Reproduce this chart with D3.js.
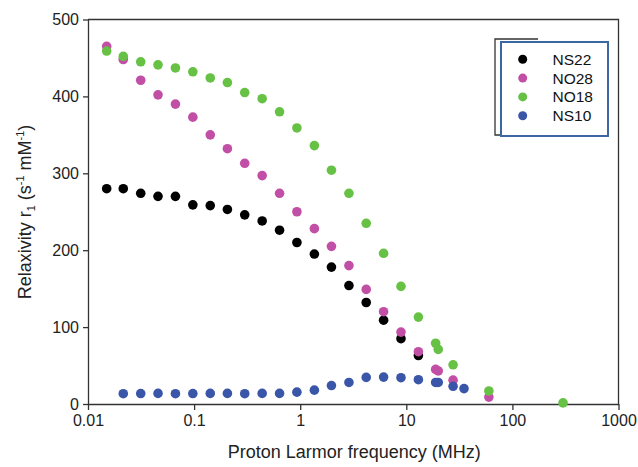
<!DOCTYPE html>
<html>
<head>
<meta charset="utf-8">
<script src="https://cdn.jsdelivr.net/npm/d3@7"></script>
<style>
  body { margin: 0; background: #fff; }
  svg { display: block; font-family: "Liberation Sans", Arial, sans-serif; }
</style>
</head>
<body>
<svg id="chart" width="638" height="467"></svg>
<script>
// frequencies in MHz (shared by all series)
var freqs = [0.015, 0.0215, 0.0314, 0.0457, 0.0667, 0.0973, 0.142, 0.206, 0.300, 0.438,
  0.639, 0.931, 1.36, 1.97, 2.88, 4.19, 6.11, 8.91, 13.0, 18.9,
  20, 27.6, 35, 60, 300];

var ns22 = [280, 280, 274, 270, 270, 259, 258, 253, 246, 238, 226, 210, 195, 178, 154, 132, 109, 85, 63,
  null, null, null, null, null, null];
var no28 = [465, 448, 421, 402, 390, 373, 350, 332, 313, 297, 274, 250, 228, 205, 180, 149, 120, 93.5, 68,
  45, 43, 31, null, 9, null];
var no18 = [459, 452, 445, 441, 437, 432, 424, 418, 405, 397, 380, 359, 336, 304, 274, 235, 196, 153, 113,
  79, 71, 51, null, 17, 1.5];
var ns10 = [null, 13.4, 13.6, 13.8, 13.4, 13.6, 13.8, 13.8, 13.4, 13.8, 13.8, 15.4, 18, 24, 28, 34.6, 35, 34.2, 31.6,
  28, 28, 23, 20, null, null];

var seriesNames = ['NS22', 'NO28', 'NO18', 'NS10'];
var seriesColors = ['#000000', '#c24fa6', '#66c144', '#3a56a8'];
var xTicks = [0.01, 0.1, 1, 10, 100, 1000];
var yTicks = [0, 100, 200, 300, 400, 500];

var series = [ns22, no28, no18, ns10].map(function(vals, i) {
  return {
    name: seriesNames[i],
    color: seriesColors[i],
    points: vals.map(function(v, j) { return {f: freqs[j], v: v}; })
      .filter(function(d) { return d.v !== null; })
  };
});

var plotL = 88, plotR = 618.5, plotT = 19.5, plotB = 404;

var svg = d3.select('#chart');

var x = d3.scaleLog().domain([0.01, 1000]).range([plotL, plotR]);
var y = d3.scaleLinear().domain([0, 500]).range([plotB, plotT]);

// frame (top and right)
svg.append('path')
  .attr('d', `M${plotL},${plotT}H${plotR}V${plotB}`)
  .attr('fill', 'none')
  .attr('stroke', '#333')
  .attr('stroke-width', 1.3);

// x axis
var xAxis = svg.append('g')
  .attr('transform', `translate(0,${plotB})`)
  .call(d3.axisBottom(x).tickValues(xTicks).tickFormat(function(d) { return String(d); })
    .tickSize(6).tickSizeOuter(0).tickPadding(5));

// y axis
var yAxis = svg.append('g')
  .attr('transform', `translate(${plotL},0)`)
  .call(d3.axisLeft(y).tickValues(yTicks).tickSize(5).tickSizeOuter(0).tickPadding(4));

[xAxis, yAxis].forEach(function(g) {
  g.select('.domain').attr('stroke', '#333').attr('stroke-width', 1.3);
  g.selectAll('.tick line').attr('stroke', '#333').attr('stroke-width', 1.3);
  g.selectAll('.tick text')
    .attr('fill', '#222')
    .attr('font-size', 16)
    .attr('font-family', '"Liberation Sans", Arial, sans-serif');
});

// axis titles
svg.append('text')
  .attr('x', (plotL + plotR) / 2 + 1)
  .attr('y', 458)
  .attr('text-anchor', 'middle')
  .attr('font-size', 18)
  .attr('fill', '#222')
  .text('Proton Larmor frequency (MHz)');

var yTitle = svg.append('text')
  .attr('transform', 'translate(31,212) rotate(-90)')
  .attr('text-anchor', 'middle')
  .attr('font-size', 18)
  .attr('fill', '#222');
yTitle.append('tspan').text('Relaxivity r');
yTitle.append('tspan').attr('font-size', 11).attr('dy', 4).text('1');
yTitle.append('tspan').attr('dy', -4).text(' (s');
yTitle.append('tspan').attr('font-size', 11).attr('dy', -7).text('-1');
yTitle.append('tspan').attr('dy', 7).text(' mM');
yTitle.append('tspan').attr('font-size', 11).attr('dy', -7).text('-1');
yTitle.append('tspan').attr('dy', 7).text(')');

// points
svg.selectAll('.series')
  .data(series)
  .join('g')
  .attr('class', 'series')
  .attr('fill', function(d) { return d.color; })
  .selectAll('circle')
  .data(function(d) { return d.points; })
  .join('circle')
  .attr('cx', function(d) { return x(d.f); })
  .attr('cy', function(d) { return y(d.v); })
  .attr('r', 4.8);

// legend
var legend = svg.append('g');
legend.append('path')
  .attr('d', 'M538,39H495V135H501')
  .attr('fill', 'none')
  .attr('stroke', '#333')
  .attr('stroke-width', 1.3);
legend.append('rect')
  .attr('x', 501).attr('y', 42)
  .attr('width', 107).attr('height', 94)
  .attr('fill', '#fff')
  .attr('stroke', '#3b67a3')
  .attr('stroke-width', 2);

var rows = legend.selectAll('.row')
  .data(series)
  .join('g')
  .attr('class', 'row')
  .attr('transform', function(d, i) { return `translate(0,${59.3 + i * 18.8})`; });
rows.append('circle')
  .attr('cx', 522.7).attr('cy', 0).attr('r', 4.5)
  .attr('fill', function(d) { return d.color; });
rows.append('text')
  .attr('x', 552.5).attr('y', 5.5)
  .attr('font-size', 15.5)
  .attr('fill', '#111')
  .text(function(d) { return d.name; });
</script>
</body>
</html>
